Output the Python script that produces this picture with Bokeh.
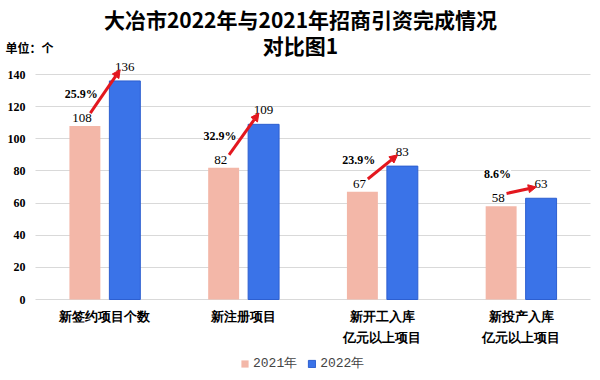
from bokeh.plotting import figure
from bokeh.models import (ColumnDataSource, FixedTicker, Range1d, Arrow, NormalHead,
                          LabelSet, Label, Legend, LegendItem)
from bokeh.embed import file_html
from bokeh.resources import INLINE

# ---- data ----
categories = ["新签约项目个数", "新注册项目", "新开工入库\n亿元以上项目", "新投产入库\n亿元以上项目"]
v2021 = [108, 82, 67, 58]
v2022 = [136, 109, 83, 63]
growth = ["25.9%", "32.9%", "23.9%", "8.6%"]
y_ticks = [0, 20, 40, 60, 80, 100, 120, 140]
series_names = ["2021年", "2022年"]
title_lines = ["大冶市2022年与2021年招商引资完成情况", "对比图1"]
unit_text = "单位：个"

# ---- styles ----
PINK = "#F3B7A8"
BLUE = "#3A73E8"
RED = "#E3171E"
GRID = "#D9D9D9"
CJK = "Noto Sans CJK SC"
OFF = 0.144
BW = 0.223
W, H = 600, 380
PX = 138.75          # pixels per category slot
LEFT_PAD = 35 / PX   # room for the value axis labels
PY = 1.607           # pixels per unit on the value scale
ZERO_Y = 299         # pixel row of the zero line

n = len(categories)
idx = list(range(n))
line1 = [c.split("\n")[0] for c in categories]
line2 = [c.split("\n")[1] if "\n" in c else "" for c in categories]
src = ColumnDataSource(dict(
    v2021=v2021, v2022=v2022,
    t21=[str(v) for v in v2021], t22=[str(v) for v in v2022],
    xc=[i + 0.5 for i in idx], y0=[0 for _ in idx], l1=line1, l2=line2,
    x21=[i + 0.5 - OFF for i in idx], x22=[i + 0.5 + OFF for i in idx],
    xs=[i + 0.5 - 0.105 for i in idx], ys=[v + 8 for v in v2021],
    xe=[i + 0.5 + 0.11 for i in idx], ye=[v + 7 for v in v2022],
    xg=[i + 0.5 - 0.17 for i in idx], yg=[v + 20 for v in v2021], g=growth,
))
tick_src = ColumnDataSource(dict(y=y_ticks, t=[str(t) for t in y_ticks],
                                 x=[25 for _ in y_ticks]))

p = figure(width=W, height=H,
           x_range=Range1d(-LEFT_PAD, -LEFT_PAD + W / PX),
           y_range=Range1d(-(H - ZERO_Y) / PY, ZERO_Y / PY),
           output_backend="svg", toolbar_location=None,
           x_axis_location=None, y_axis_location=None,
           min_border_left=0, min_border_right=0, min_border_top=0, min_border_bottom=0)
p.outline_line_color = None
p.background_fill_color = "white"
p.xgrid.grid_line_color = None
p.ygrid.ticker = FixedTicker(ticks=y_ticks)
p.ygrid.grid_line_color = GRID
try:
    p.ygrid.cross_bounds = (0, n)
except AttributeError:
    p.ygrid.visible = False
    p.segment(x0=[0] * len(y_ticks), x1=[n] * len(y_ticks), y0=y_ticks, y1=y_ticks,
              line_color=GRID, line_width=1)

r21 = p.vbar(x="x21", top="v2021", width=BW, source=src, fill_color=PINK, line_color=None)
r22 = p.vbar(x="x22", top="v2022", width=BW, source=src, fill_color=BLUE,
             line_color="#2D5FD0", line_width=1)

# value axis labels
p.add_layout(LabelSet(source=tick_src, x="x", y="y", text="t", x_units="screen",
                      text_align="right", text_baseline="middle", text_font="Liberation Sans",
                      text_font_style="bold", text_font_size="12px", text_color="black"))

# category labels (below the zero line)
cat_style = dict(source=src, x="xc", y="y0", text_align="center", text_baseline="middle",
                 text_font=CJK, text_font_style="bold", text_font_size="13px",
                 text_color="black")
p.add_layout(LabelSet(text="l1", y_offset=-17, **cat_style))
p.add_layout(LabelSet(text="l2", y_offset=-38, **cat_style))

# value labels
p.add_layout(LabelSet(x="x21", y="v2021", text="t21", source=src, text_align="center",
                      text_baseline="middle", x_offset=-3, y_offset=8,
                      text_font="Liberation Serif", text_font_size="13px", text_color="black"))
p.add_layout(LabelSet(x="x22", y="v2022", text="t22", source=src, text_align="center",
                      text_baseline="middle", y_offset=14, text_font="Liberation Serif",
                      text_font_size="13px", text_color="black"))
p.add_layout(LabelSet(x="xg", y="yg", text="g", source=src, text_align="center",
                      text_baseline="middle", text_font="Liberation Mono",
                      text_font_style="bold", text_font_size="12px", text_color="black",
                      background_fill_color="white"))

# arrows
p.add_layout(Arrow(end=NormalHead(size=8, fill_color=RED, line_color=RED),
                   x_start="xs", y_start="ys", x_end="xe", y_end="ye", source=src,
                   line_color=RED, line_width=3))

# titles & unit
p.add_layout(Label(x=300, y=H - 18, x_units="screen", y_units="screen", text=title_lines[0],
                   text_align="center", text_baseline="middle", text_font=CJK,
                   text_font_style="bold", text_font_size="21px", text_color="black"))
p.add_layout(Label(x=300, y=H - 44, x_units="screen", y_units="screen", text=title_lines[1],
                   text_align="center", text_baseline="middle", text_font=CJK,
                   text_font_style="bold", text_font_size="21px", text_color="black"))
p.add_layout(Label(x=5, y=H - 47, x_units="screen", y_units="screen", text=unit_text,
                   text_align="left", text_baseline="middle", text_font=CJK,
                   text_font_style="bold", text_font_size="12px", text_color="black"))

legend = Legend(items=[LegendItem(label=series_names[0], renderers=[r21]),
                       LegendItem(label=series_names[1], renderers=[r22])],
                orientation="horizontal", location=(240, 8),
                label_text_font="Liberation Mono", label_text_font_size="13px",
                glyph_width=9, glyph_height=9, label_standoff=4, spacing=10,
                padding=2, margin=0, border_line_color=None, background_fill_alpha=0)
p.add_layout(legend, "center")

open("out.html", "w").write(file_html(p, INLINE))
